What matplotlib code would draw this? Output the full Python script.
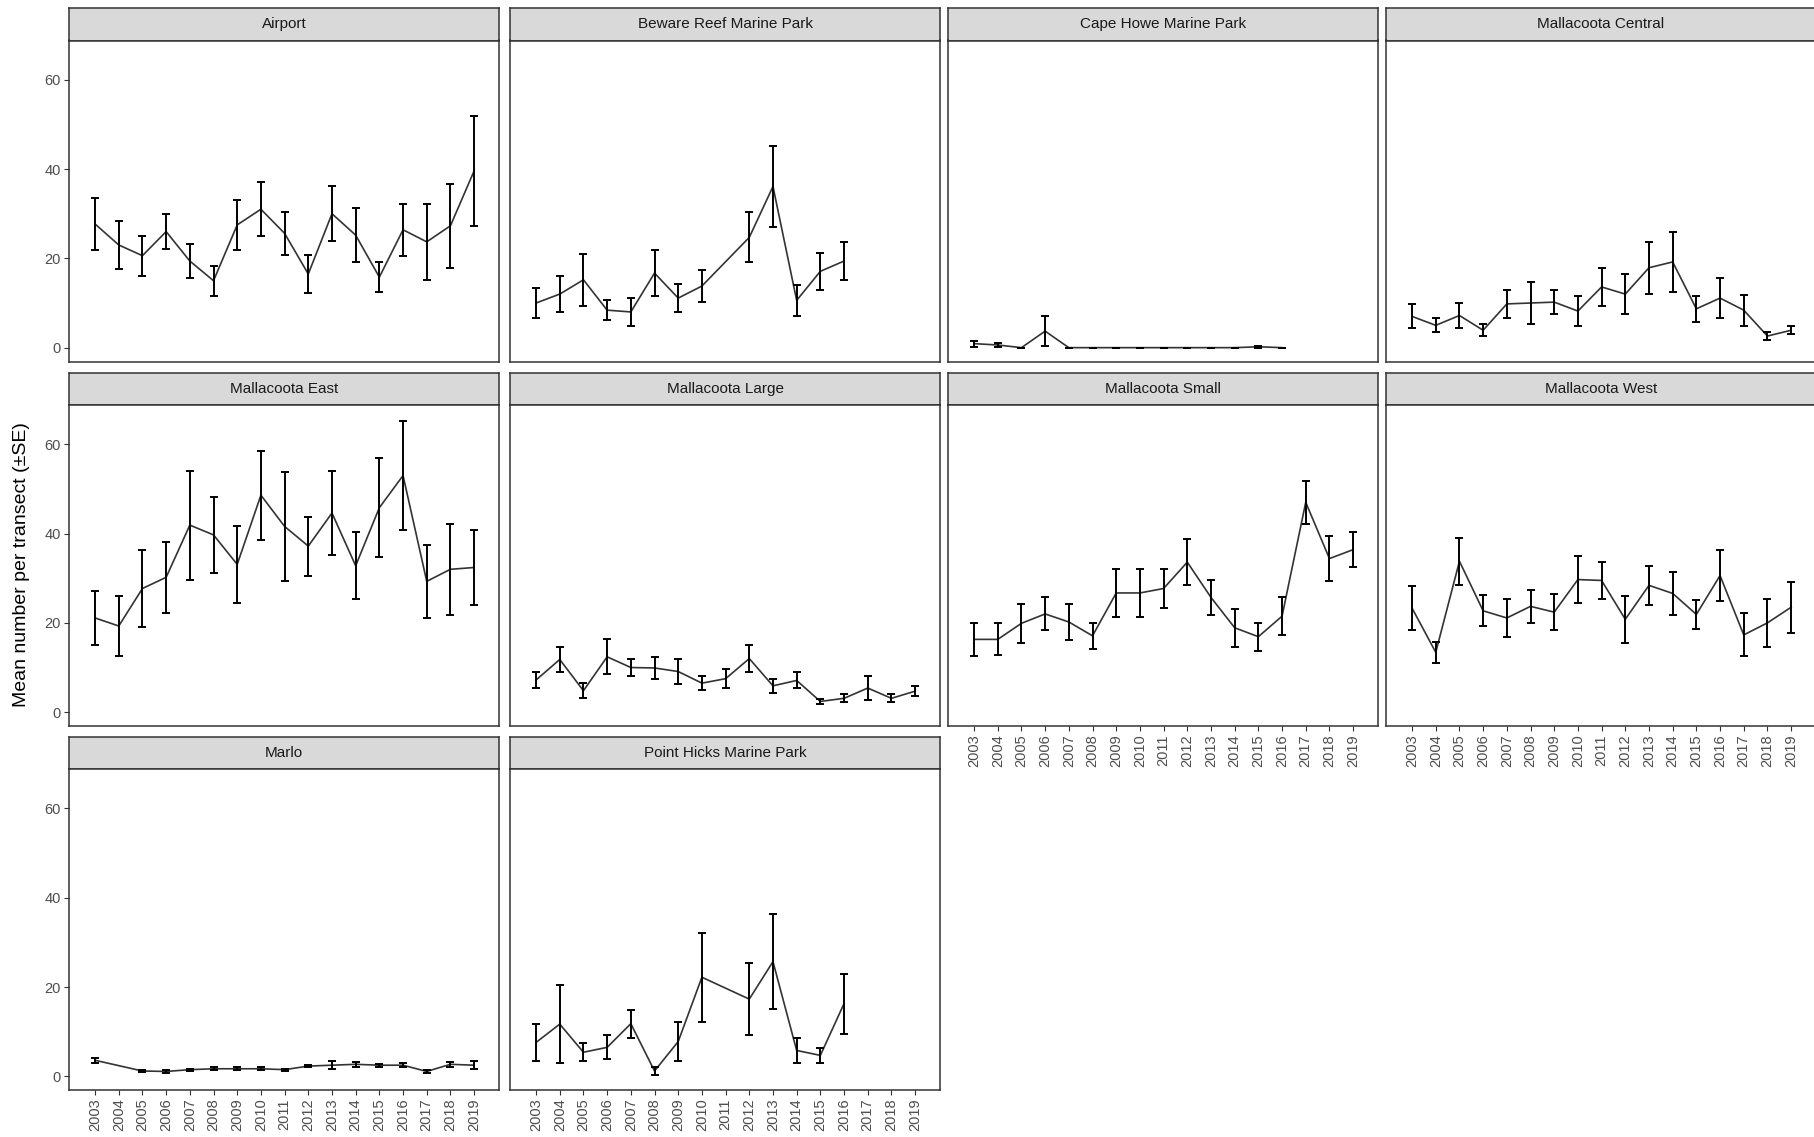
import numpy as np
import matplotlib
matplotlib.use("Agg")
import matplotlib.pyplot as plt

plt.rcParams['font.family'] = ['Liberation Sans', 'DejaVu Sans']

years = list(range(2003, 2020))
year_labels = [str(y) for y in years]

# mean abundance and standard error per site
airport_years = years
airport_mean = [27.7, 23.0, 20.6, 26.0, 19.4, 15.0, 27.5, 31.0, 25.6, 16.5, 30.0, 25.2, 15.8, 26.4, 23.7, 27.3, 39.6]
airport_se = [5.8, 5.3, 4.5, 4.0, 3.9, 3.4, 5.6, 6.0, 4.8, 4.3, 6.2, 6.0, 3.3, 5.8, 8.5, 9.4, 12.3]

beware_years = [2003, 2004, 2005, 2006, 2007, 2008, 2009, 2010, 2012, 2013, 2014, 2015, 2016]
beware_mean = [10.0, 12.0, 15.2, 8.4, 8.0, 16.7, 11.1, 13.8, 24.7, 36.1, 10.6, 17.1, 19.4]
beware_se = [3.4, 4.1, 5.8, 2.2, 3.1, 5.1, 3.2, 3.6, 5.6, 9.0, 3.5, 4.2, 4.2]

capehowe_years = list(range(2003, 2017))
capehowe_mean = [0.9, 0.6, 0.0, 3.7, 0.0, 0.0, 0.0, 0.0, 0.0, 0.0, 0.0, 0.0, 0.2, 0.0]
capehowe_se = [0.7, 0.5, 0.0, 3.3, 0.0, 0.0, 0.0, 0.0, 0.0, 0.0, 0.0, 0.0, 0.2, 0.0]

central_years = years
central_mean = [7.0, 5.0, 7.2, 3.9, 9.8, 10.0, 10.2, 8.2, 13.6, 12.0, 17.9, 19.2, 8.7, 11.1, 8.4, 2.6, 3.9]
central_se = [2.7, 1.6, 2.9, 1.3, 3.1, 4.6, 2.7, 3.3, 4.3, 4.5, 5.8, 6.8, 2.9, 4.5, 3.5, 0.8, 0.9]

east_years = years
east_mean = [21.1, 19.3, 27.7, 30.2, 41.9, 39.7, 33.1, 48.6, 41.6, 37.2, 44.6, 32.8, 45.8, 53.0, 29.3, 32.0, 32.4]
east_se = [6.0, 6.8, 8.7, 8.0, 12.2, 8.6, 8.7, 10.0, 12.2, 6.6, 9.5, 7.5, 11.1, 12.2, 8.1, 10.2, 8.4]

large_years = years
large_mean = [7.2, 11.8, 4.8, 12.4, 10.0, 9.9, 9.1, 6.5, 7.5, 12.0, 5.9, 7.1, 2.4, 3.1, 5.4, 3.1, 4.7]
large_se = [1.9, 2.9, 1.7, 3.9, 1.9, 2.4, 2.9, 1.5, 2.2, 3.1, 1.5, 1.8, 0.6, 0.9, 2.7, 0.9, 1.1]

small_years = years
small_mean = [16.3, 16.3, 19.9, 22.0, 20.2, 17.1, 26.7, 26.7, 27.7, 33.6, 25.7, 18.9, 16.9, 21.5, 47.0, 34.4, 36.4]
small_se = [3.7, 3.6, 4.4, 3.7, 4.1, 2.9, 5.3, 5.3, 4.3, 5.2, 4.0, 4.2, 3.1, 4.2, 4.8, 5.0, 3.9]

west_years = years
west_mean = [23.3, 13.4, 33.8, 22.7, 21.1, 23.7, 22.4, 29.7, 29.5, 20.8, 28.4, 26.6, 21.9, 30.6, 17.3, 20.0, 23.5]
west_se = [5.0, 2.3, 5.3, 3.5, 4.2, 3.7, 4.1, 5.3, 4.2, 5.3, 4.4, 4.9, 3.3, 5.7, 4.8, 5.3, 5.7]

marlo_years = [2003, 2005, 2006, 2007, 2008, 2009, 2010, 2011, 2012, 2013, 2014, 2015, 2016, 2017, 2018, 2019]
marlo_mean = [3.6, 1.2, 1.1, 1.5, 1.7, 1.7, 1.7, 1.5, 2.3, 2.5, 2.7, 2.5, 2.5, 1.1, 2.7, 2.5]
marlo_se = [0.6, 0.3, 0.3, 0.2, 0.35, 0.35, 0.35, 0.2, 0.2, 0.9, 0.6, 0.35, 0.5, 0.4, 0.6, 0.9]

hicks_years = [2003, 2004, 2005, 2006, 2007, 2008, 2009, 2010, 2012, 2013, 2014, 2015, 2016]
hicks_mean = [7.6, 11.7, 5.4, 6.5, 11.8, 1.2, 7.8, 22.2, 17.3, 25.7, 5.8, 4.7, 16.3]
hicks_se = [4.2, 8.7, 2.0, 2.7, 3.1, 0.8, 4.4, 10.0, 8.0, 10.7, 2.8, 1.7, 6.7]

sites = [
    ("Airport", airport_years, airport_mean, airport_se),
    ("Beware Reef Marine Park", beware_years, beware_mean, beware_se),
    ("Cape Howe Marine Park", capehowe_years, capehowe_mean, capehowe_se),
    ("Mallacoota Central", central_years, central_mean, central_se),
    ("Mallacoota East", east_years, east_mean, east_se),
    ("Mallacoota Large", large_years, large_mean, large_se),
    ("Mallacoota Small", small_years, small_mean, small_se),
    ("Mallacoota West", west_years, west_mean, west_se),
    ("Marlo", marlo_years, marlo_mean, marlo_se),
    ("Point Hicks Marine Park", hicks_years, hicks_mean, hicks_se),
]

W, H = 1814, 1137
fig = plt.figure(figsize=(W / 100, H / 100), dpi=100)

col_left = [69, 510, 948, 1386]
row_top = [8, 372.5, 736.7]
panel_w = 430
strip_h = 32.5
panel_h = 321
edge = '#333333'
txt = '#4d4d4d'


def frac(x, y, w, h):
    return [x / W, 1 - (y + h) / H, w / W, h / H]


for i, (name, yrs, mean, se) in enumerate(sites):
    r, c = divmod(i, 4)
    x0 = col_left[c]
    top = row_top[r]

    strip = fig.add_axes(frac(x0, top, panel_w, strip_h))
    strip.set_facecolor('#d9d9d9')
    strip.set_xticks([])
    strip.set_yticks([])
    for sp in strip.spines.values():
        sp.set_color(edge)
        sp.set_linewidth(1.1)
    strip.text(0.5, 0.5, name, ha='center', va='center', fontsize=11,
               color='#1a1a1a', transform=strip.transAxes)

    ax = fig.add_axes(frac(x0, top + strip_h, panel_w, panel_h))
    ax.plot(yrs, mean, color='#333333', lw=1.2, zorder=2)
    ax.errorbar(yrs, mean, yerr=se, fmt='none', ecolor='black',
                elinewidth=1.4, capsize=3.1, capthick=1.4, zorder=3)

    ax.set_xlim(2001.9, 2020.05)
    ax.set_ylim(-3.1, 68.8)
    ax.set_xticks(years)
    ax.set_yticks([0, 20, 40, 60])
    for sp in ax.spines.values():
        sp.set_color(edge)
        sp.set_linewidth(1.1)
    ax.tick_params(length=3.8, width=0.8, color=edge, labelcolor=txt,
                   labelsize=10.5, pad=2)

    if c == 0:
        ax.set_yticklabels(['0', '20', '40', '60'])
    else:
        ax.tick_params(axis='y', left=False, labelleft=False)

    show_x = (r == 2) or (r == 1 and c >= 2)
    if show_x:
        ax.set_xticklabels(year_labels, rotation=90)
    else:
        ax.tick_params(axis='x', bottom=False, labelbottom=False)

fig.text(22 / W, 1 - 565 / H, 'Mean number per transect (\u00b1SE)', rotation=90,
         ha='center', va='center', fontsize=14, color='black')

fig.savefig('out.png', dpi=100)
